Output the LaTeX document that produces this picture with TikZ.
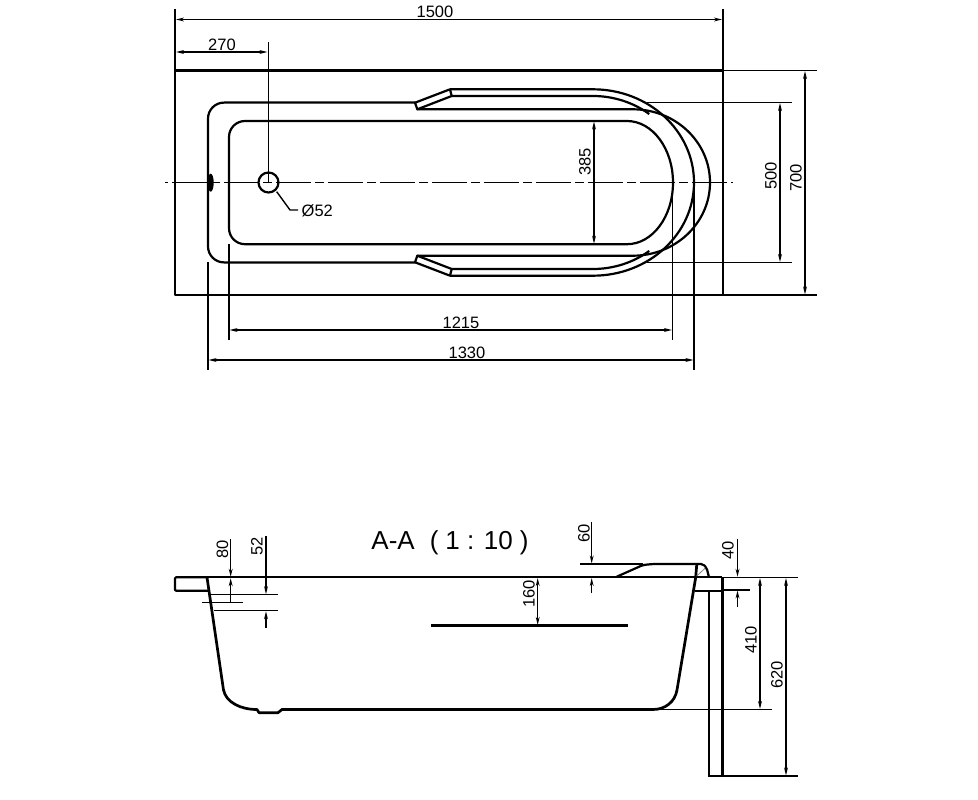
\documentclass[tikz,border=0pt]{standalone}
\usepackage{fontspec}
\setmainfont{Liberation Sans}
\usetikzlibrary{arrows.meta}
\tikzset{
  outl/.style={line width=2.2pt, line join=round},
  thn/.style={line width=1.4pt},
  dimln/.style={line width=1.4pt, {Stealth[length=8pt,width=3.8pt]}-{Stealth[length=8pt,width=3.8pt]}},
  tipin/.style={line width=1.4pt, -{Stealth[length=8pt,width=3.8pt]}},
  lbl/.style={inner sep=0pt, font=\fontsize{16.5}{16.5}\selectfont},
  vlbl/.style={lbl, rotate=90}
}
\begin{document}
\begin{tikzpicture}[x=1pt,y=-1pt]
  \useasboundingbox (0,0) rectangle (978,800);
  % plan view
  \draw [outl] (175,70.5) rectangle (723,295);
  \draw [outl, rounded corners=16pt] (415,102.6) -- (208,102.6) -- (208,262.4) -- (415,262.4);
  \draw [outl, rounded corners=16pt] (627,121) -- (229,121) -- (229,244.2) -- (627,244.2);
  \draw [outl] (627,121) arc[start angle=-90,end angle=90,x radius=46,y radius=61.6];
  % handles
  \draw [outl] (415,102.7) -- (450,89.3) -- (451.7,96) -- (417.3,109.3) -- cycle;
  \draw [outl] (415,262.3) -- (450,275.7) -- (451.7,269) -- (417.3,255.7) -- cycle;
  \draw [outl] (450,89.3) -- (593,89.3) arc[start angle=-90,end angle=90,x radius=101,y radius=93.2] -- (450,275.7);
  \draw [outl] (451.7,96) -- (593,96) arc[start angle=-90,end angle=-52.3,x radius=92,y radius=86.5];
  \draw [outl] (451.7,269) -- (593,269) arc[start angle=90,end angle=52.3,x radius=92,y radius=86.5];
  \draw [outl] (417.3,109.3) -- (633,109.3) arc[start angle=-90,end angle=90,x radius=77,y radius=73.2] -- (417.3,255.7);
  % center line, drain, overflow
  \draw [line width=1.8pt, dash pattern=on 35pt off 4pt on 9pt off 4pt, dash phase=45pt] (165,182.5) -- (733,182.5);
  \draw [outl] (268.5,182.5) circle (10);
  \fill (210.7,182.7) ellipse (3 and 9);
  \draw [thn] (276.7,191.7) -- (290,210) -- (298,210);
  \node [lbl] (tdrain) at (317.3,211) {Ø52};
  % plan dimensions
  \draw [thn] (175,9) -- (175,70.5);
  \draw [thn] (723,9) -- (723,70.5);
  \draw [thn] (268.5,42) -- (268.5,182.5);
  \draw [dimln] (176,19.5) -- (722,19.5);
  \draw [dimln] (176,52) -- (267.5,52);
  \node [lbl] (t1500) at (435,12) {1500};
  \node [lbl] (t270) at (222,45) {270};
  \draw [thn] (208,262) -- (208,370);
  \draw [thn] (229,244) -- (229,340);
  \draw [thn] (672.7,182.5) -- (672.7,340);
  \draw [thn] (694,182.5) -- (694,370);
  \draw [dimln] (229.5,330) -- (672,330);
  \draw [dimln] (208.5,360) -- (693.5,360);
  \node [lbl] (t1215) at (461,323) {1215};
  \node [lbl] (t1330) at (467,353) {1330};
  \draw [thn] (646.7,102.6) -- (791.7,102.6);
  \draw [thn] (646.7,262.4) -- (791.7,262.4);
  \draw [thn] (723,70.5) -- (817,70.5);
  \draw [thn] (723,295) -- (817,295);
  \draw [dimln] (780,103) -- (780,262);
  \draw [dimln] (805,71) -- (805,294.5);
  \draw [dimln] (594,121.5) -- (594,243.7);
  \node [vlbl] (t500) at (771,176) {500};
  \node [vlbl] (t700) at (796,178) {700};
  \node [vlbl] (t385) at (585,162) {385};
  % section A-A
  \node [inner sep=0pt, font=\fontsize{26}{26}\selectfont] (ttitle) at (450,543) {A-A\hspace{15pt}(\hspace{7pt}1 : 10\hspace{7pt})};
  \draw [line width=1.9pt] (207,577.3) -- (722,577.3);
  \draw [outl, rounded corners=1pt] (207,577.3) -- (175,577.3) -- (175,590.7) -- (209,590.7);
  \draw [line width=2.7pt, line join=round] (207,577.3) -- (223.5,690) .. controls (226,702) and (240,709.5) .. (257,709.5)
     -- (259,712.7) -- (278,712.7) -- (282,709.5) -- (653,709.5)
     .. controls (665,709.5) and (675,702) .. (677,690) -- (695.7,577.3) -- (696.7,565);
  \draw [outl, rounded corners=2pt] (616.7,576.7) -- (643,565) -- (653,564) -- (703,564) -- (706.7,568) -- (709,577.3);
  \draw [line width=0.8pt, gray] (696.7,576) -- (705,568.3);
  \draw [outl] (694.7,591) -- (722.3,591);
  \draw [line width=2.8pt] (722.3,577.3) -- (722.3,776);
  \draw [line width=2.4pt] (709,591) -- (709,776) -- (722.3,776);
  \draw [line width=2.4pt] (431,625.5) -- (628,625.5);
  % section dimensions
  \draw [thn] (201.7,602.7) -- (242.7,602.7);
  \draw [thn] (210,594.7) -- (278,594.7);
  \draw [thn] (214,610.7) -- (278,610.7);
  \draw [tipin] (230.7,539) -- (230.7,576.8);
  \draw [tipin] (230.7,602.7) -- (230.7,578.2);
  \draw [tipin] (266,536) -- (266,594.2);
  \draw [tipin] (266,627.5) -- (266,611.2);
  \node [vlbl] (t80) at (222.5,549) {80};
  \node [vlbl] (t52) at (257,546) {52};
  \draw [dimln] (537.7,578) -- (537.7,625);
  \node [vlbl] (t160) at (529,594) {160};
  \draw [thn] (580,564) -- (643,564);
  \draw [tipin] (591.7,522) -- (591.7,563.5);
  \draw [tipin] (591.7,593) -- (591.7,578);
  \node [vlbl] (t60) at (584,533) {60};
  \draw [thn] (722,577.3) -- (798,577.3);
  \draw [thn] (722,590) -- (750,590);
  \draw [tipin] (737.5,539) -- (737.5,576.8);
  \draw [tipin] (737.5,606.7) -- (737.5,590.5);
  \node [vlbl] (t40) at (728,550) {40};
  \draw [thn] (653,709.5) -- (771.7,709.5);
  \draw [thn] (722,776) -- (798,776);
  \draw [dimln] (760,578) -- (760,709);
  \draw [dimln] (786,578) -- (786,775.5);
  \node [vlbl] (t410) at (751,640) {410};
  \node [vlbl] (t620) at (777,675) {620};
\end{tikzpicture}
\end{document}
